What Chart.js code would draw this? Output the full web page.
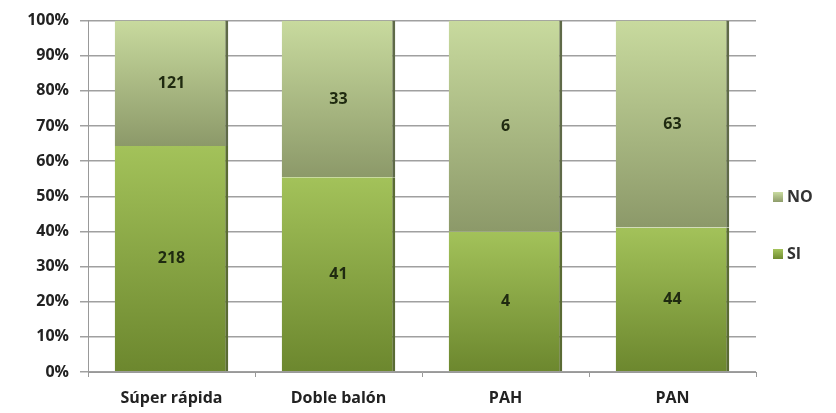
<!DOCTYPE html>
<html>
<head>
<meta charset="utf-8">
<script src="https://cdn.jsdelivr.net/npm/chart.js@4"></script>
<style>
  html, body { margin: 0; padding: 0; background: #fff; }
  #wrap { width: 836px; height: 413px; }
</style>
</head>
<body>
<div id="wrap"><canvas id="chart" width="836" height="413"></canvas></div>
<script>
const categories = ['Súper rápida', 'Doble balón', 'PAH', 'PAN'];
const siCounts = [218, 41, 4, 44];
const noCounts = [121, 33, 6, 63];
const yTicks = [0, 10, 20, 30, 40, 50, 60, 70, 80, 90, 100];

const totals = siCounts.map((v, i) => v + noCounts[i]);
const siPct = siCounts.map((v, i) => v / totals[i] * 100);
const noPct = noCounts.map((v, i) => v / totals[i] * 100);

const FONT = '"Open Sans", Lato, sans-serif';

// vertical gradient for one stacked segment, built from the y scale
function segmentFill(context, top, bottom) {
  const chart = context.chart;
  if (!chart.chartArea) return bottom;
  const y = chart.scales.y;
  const i = context.dataIndex;
  let from, to;
  if (context.datasetIndex === 0) { from = 0; to = siPct[i]; }
  else { from = siPct[i]; to = 100; }
  const g = chart.ctx.createLinearGradient(0, y.getPixelForValue(to), 0, y.getPixelForValue(from));
  g.addColorStop(0, top);
  g.addColorStop(1, bottom);
  return g;
}

// count labels in the middle of each segment
const countLabels = {
  id: 'countLabels',
  afterDatasetsDraw(chart) {
    const ctx = chart.ctx;
    ctx.save();
    ctx.font = 'bold 16px ' + FONT;
    ctx.fillStyle = '#1f2a10';
    ctx.textAlign = 'center';
    ctx.textBaseline = 'middle';
    chart.data.datasets.forEach((ds, di) => {
      chart.getDatasetMeta(di).data.forEach((bar, i) => {
        const mid = (bar.y + bar.base) / 2;
        ctx.fillText(String(ds.counts[i]), bar.x, mid);
      });
    });
    ctx.restore();
  }
};

// legend on the right, NO above SI
const sideLegend = {
  id: 'sideLegend',
  afterDraw(chart) {
    const ctx = chart.ctx;
    const items = [
      { text: 'NO', y: 197, top: '#c9dba0', bottom: '#8e9c6a' },
      { text: 'SI', y: 254, top: '#a5c45c', bottom: '#6f8b2f' }
    ];
    ctx.save();
    ctx.font = 'bold 16px ' + FONT;
    ctx.textBaseline = 'middle';
    items.forEach(it => {
      const g = ctx.createLinearGradient(0, it.y - 5, 0, it.y + 5);
      g.addColorStop(0, it.top);
      g.addColorStop(1, it.bottom);
      ctx.fillStyle = g;
      ctx.fillRect(773, it.y - 5, 10, 10);
      ctx.fillStyle = '#333';
      ctx.fillText(it.text, 787, it.y);
    });
    ctx.restore();
  }
};

new Chart(document.getElementById('chart'), {
  type: 'bar',
  data: {
    labels: categories,
    datasets: [
      {
        label: 'SI',
        data: siPct,
        counts: siCounts,
        backgroundColor: c => segmentFill(c, '#a3c25a', '#6c872e'),
        borderColor: '#5a6b34',
        borderWidth: { right: 3, left: 0, top: 0, bottom: 0 },
        borderSkipped: false
      },
      {
        label: 'NO',
        data: noPct,
        counts: noCounts,
        backgroundColor: c => segmentFill(c, '#c8da9e', '#8c9969'),
        borderColor: '#5f6a48',
        borderWidth: { right: 3, left: 0, top: 0, bottom: 0 },
        borderSkipped: false
      }
    ]
  },
  options: {
    responsive: false,
    animation: false,
    categoryPercentage: 1,
    barPercentage: 0.68,
    layout: { padding: { top: 2, right: 80, bottom: 0, left: 0 } },
    plugins: {
      legend: { display: false },
      tooltip: { enabled: false }
    },
    scales: {
      x: {
        stacked: true,
        afterFit: s => { s.height = 41; },
        grid: { drawOnChartArea: false, drawTicks: true, tickLength: 5, color: '#999' },
        border: { color: '#999', width: 1 },
        ticks: { color: '#222', font: { family: FONT, size: 16, weight: 'bold' }, padding: 12 }
      },
      y: {
        stacked: true,
        min: 0,
        max: 100,
        afterFit: s => { s.width = 88; },
        afterBuildTicks: s => { s.ticks = yTicks.map(v => ({ value: v })); },
        grid: { color: '#a0a0a0', lineWidth: 1.5, tickLength: 8 },
        border: { color: '#999', width: 1 },
        ticks: {
          color: '#222',
          padding: 11,
          font: { family: FONT, size: 16, weight: 'bold' },
          callback: v => v + '%'
        }
      }
    }
  },
  plugins: [countLabels, sideLegend]
});
</script>
</body>
</html>
